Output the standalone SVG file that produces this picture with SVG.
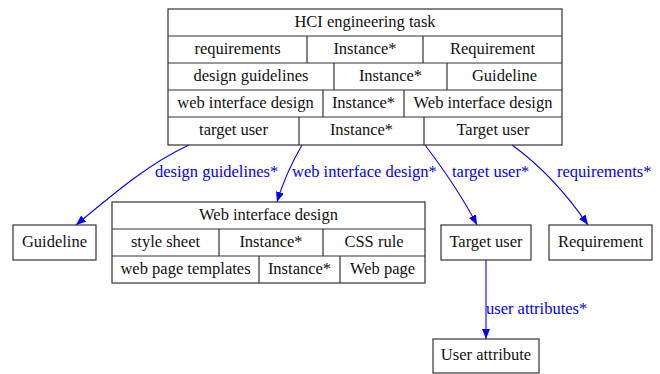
<svg xmlns="http://www.w3.org/2000/svg" width="660" height="374" viewBox="0 0 660 374">
<style>
.box{fill:#ffffff;stroke:#333333;stroke-width:1.2}
.ln{stroke:#333333;stroke-width:1.2;fill:none}
.t{font-family:"Liberation Serif","Times New Roman",serif;font-size:16.5px;fill:#111111;text-anchor:middle}
.e{stroke:#0000ff;stroke-width:1.1;fill:none;marker-end:url(#ah)}
.el{font-family:"Liberation Serif","Times New Roman",serif;font-size:16.5px;fill:#0000ff}
</style>
<defs>
<marker id="ah" markerWidth="10" markerHeight="8" refX="10" refY="4" orient="auto" markerUnits="userSpaceOnUse">
<path d="M0,0 L10,4 L0,8 Z" fill="#0000ff"/>
</marker>
</defs>
<rect width="660" height="374" fill="#ffffff"/>
<g id="edges">
<path class="e" d="M189,145 C150,163 118,190 76,225"/>
<path class="e" d="M302,145 C291,164 283,182 277,202"/>
<path class="e" d="M425,145 C444,170 462,196 477,225"/>
<path class="e" d="M512,145 C544,168 568,196 588,225"/>
<path class="e" d="M486,260 L486,339"/>
<text class="el" x="155" y="177">design guidelines*</text>
<text class="el" x="292" y="177">web interface design*</text>
<text class="el" x="452" y="177">target user*</text>
<text class="el" x="557" y="177">requirements*</text>
<text class="el" x="486" y="314">user attributes*</text>
</g>
<g id="hci-task">
<rect class="box" x="168" y="9" width="394" height="136"/>
<path class="ln" d="M168,36H562M168,63H562M168,90H562M168,117H562"/>
<path class="ln" d="M307,36V63M423,36V63M334,63V90M447,63V90M323,90V117M404,90V117M299,117V145M424,117V145"/>
<text class="t" x="365" y="27">HCI engineering task</text>
<text class="t" x="237.5" y="54">requirements</text>
<text class="t" x="365" y="54">Instance*</text>
<text class="t" x="492.5" y="54">Requirement</text>
<text class="t" x="251" y="81">design guidelines</text>
<text class="t" x="390.5" y="81">Instance*</text>
<text class="t" x="504.5" y="81">Guideline</text>
<text class="t" x="245.5" y="108">web interface design</text>
<text class="t" x="363.5" y="108">Instance*</text>
<text class="t" x="483" y="108">Web interface design</text>
<text class="t" x="233.5" y="135">target user</text>
<text class="t" x="361.5" y="135">Instance*</text>
<text class="t" x="493" y="135">Target user</text>
</g>
<g id="web-interface-design">
<rect class="box" x="112" y="202" width="313" height="81"/>
<path class="ln" d="M112,229H425M112,256H425"/>
<path class="ln" d="M219,229V256M323,229V256M259,256V283M340,256V283"/>
<text class="t" x="268.5" y="220">Web interface design</text>
<text class="t" x="165.5" y="247">style sheet</text>
<text class="t" x="271" y="247">Instance*</text>
<text class="t" x="374" y="247">CSS rule</text>
<text class="t" x="185.5" y="274">web page templates</text>
<text class="t" x="299.5" y="274">Instance*</text>
<text class="t" x="382.5" y="274">Web page</text>
</g>
<g id="guideline">
<rect class="box" x="13" y="225" width="83" height="35"/>
<text class="t" x="54.5" y="246.5">Guideline</text>
</g>
<g id="target-user">
<rect class="box" x="441" y="225" width="90" height="35"/>
<text class="t" x="486" y="246.5">Target user</text>
</g>
<g id="requirement">
<rect class="box" x="549" y="225" width="103" height="35"/>
<text class="t" x="600.5" y="246.5">Requirement</text>
</g>
<g id="user-attribute">
<rect class="box" x="433" y="339" width="106" height="34"/>
<text class="t" x="486" y="360">User attribute</text>
</g>
</svg>
